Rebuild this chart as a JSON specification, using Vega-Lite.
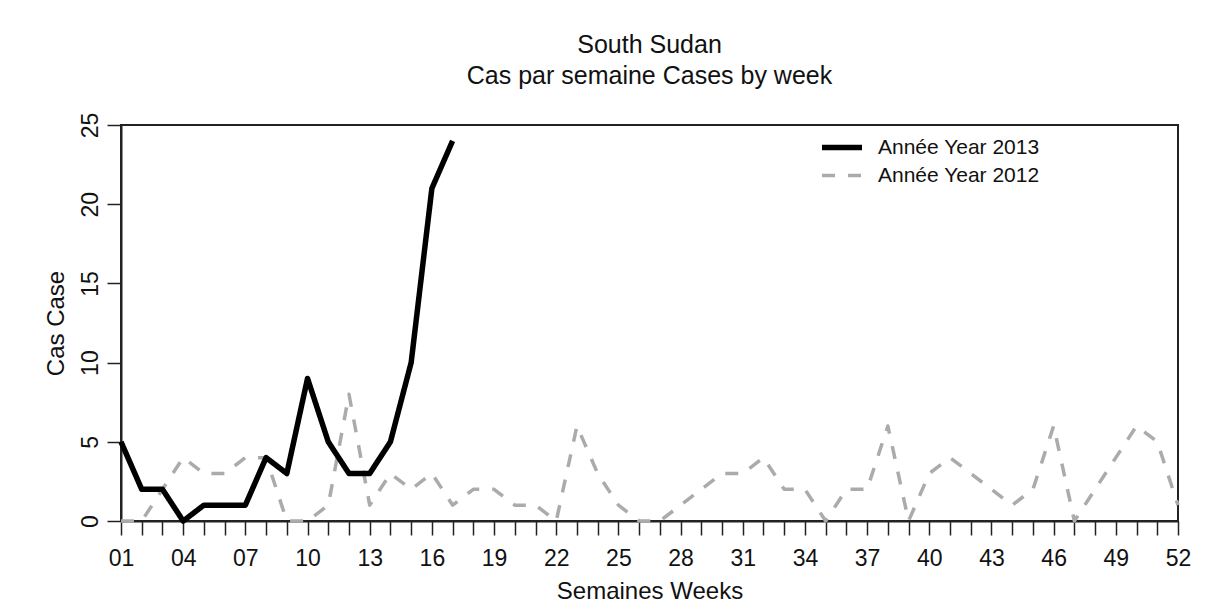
{
  "$schema": "https://vega.github.io/schema/vega-lite/v6.json",
  "autosize": {"type": "none"},
  "width": 1057,
  "height": 396,
  "padding": {"left": 121, "top": 125, "right": 29, "bottom": 86},
  "background": "white",
  "config": {
    "view": {"stroke": "#222222", "strokeWidth": 2},
    "font": "Liberation Sans",
    "axis": {"grid": false, "domainColor": "#222222", "tickColor": "#222222", "labelColor": "#111111", "titleColor": "#111111", "titleFontWeight": "normal", "labelFont": "Liberation Sans", "titleFont": "Liberation Sans"},
    "legend": {
      "title": null,
      "orient": "none",
      "legendX": 698,
      "legendY": 12,
      "symbolType": "stroke",
      "symbolSize": 1600,
      "clipHeight": 21,
      "labelFontSize": 21,
      "labelColor": "#111111",
      "labelFont": "Liberation Sans",
      "labelOffset": 13,
      "labelLimit": 400,
      "rowPadding": 6
    }
  },
  "title": {
    "text": ["South Sudan", "Cas par semaine Cases by week"],
    "fontSize": 25,
    "fontWeight": "normal",
    "font": "Liberation Sans",
    "color": "#111111",
    "lineHeight": 31,
    "anchor": "middle",
    "offset": 23
  },
  "data": {
    "values": [
      {"week": 1, "cases": 0, "series": "Année Year 2012"},
      {"week": 2, "cases": 0, "series": "Année Year 2012"},
      {"week": 3, "cases": 2, "series": "Année Year 2012"},
      {"week": 4, "cases": 4, "series": "Année Year 2012"},
      {"week": 5, "cases": 3, "series": "Année Year 2012"},
      {"week": 6, "cases": 3, "series": "Année Year 2012"},
      {"week": 7, "cases": 4, "series": "Année Year 2012"},
      {"week": 8, "cases": 4, "series": "Année Year 2012"},
      {"week": 9, "cases": 0, "series": "Année Year 2012"},
      {"week": 10, "cases": 0, "series": "Année Year 2012"},
      {"week": 11, "cases": 1, "series": "Année Year 2012"},
      {"week": 12, "cases": 8, "series": "Année Year 2012"},
      {"week": 13, "cases": 1, "series": "Année Year 2012"},
      {"week": 14, "cases": 3, "series": "Année Year 2012"},
      {"week": 15, "cases": 2, "series": "Année Year 2012"},
      {"week": 16, "cases": 3, "series": "Année Year 2012"},
      {"week": 17, "cases": 1, "series": "Année Year 2012"},
      {"week": 18, "cases": 2, "series": "Année Year 2012"},
      {"week": 19, "cases": 2, "series": "Année Year 2012"},
      {"week": 20, "cases": 1, "series": "Année Year 2012"},
      {"week": 21, "cases": 1, "series": "Année Year 2012"},
      {"week": 22, "cases": 0, "series": "Année Year 2012"},
      {"week": 23, "cases": 6, "series": "Année Year 2012"},
      {"week": 24, "cases": 3, "series": "Année Year 2012"},
      {"week": 25, "cases": 1, "series": "Année Year 2012"},
      {"week": 26, "cases": 0, "series": "Année Year 2012"},
      {"week": 27, "cases": 0, "series": "Année Year 2012"},
      {"week": 28, "cases": 1, "series": "Année Year 2012"},
      {"week": 29, "cases": 2, "series": "Année Year 2012"},
      {"week": 30, "cases": 3, "series": "Année Year 2012"},
      {"week": 31, "cases": 3, "series": "Année Year 2012"},
      {"week": 32, "cases": 4, "series": "Année Year 2012"},
      {"week": 33, "cases": 2, "series": "Année Year 2012"},
      {"week": 34, "cases": 2, "series": "Année Year 2012"},
      {"week": 35, "cases": 0, "series": "Année Year 2012"},
      {"week": 36, "cases": 2, "series": "Année Year 2012"},
      {"week": 37, "cases": 2, "series": "Année Year 2012"},
      {"week": 38, "cases": 6, "series": "Année Year 2012"},
      {"week": 39, "cases": 0, "series": "Année Year 2012"},
      {"week": 40, "cases": 3, "series": "Année Year 2012"},
      {"week": 41, "cases": 4, "series": "Année Year 2012"},
      {"week": 42, "cases": 3, "series": "Année Year 2012"},
      {"week": 43, "cases": 2, "series": "Année Year 2012"},
      {"week": 44, "cases": 1, "series": "Année Year 2012"},
      {"week": 45, "cases": 2, "series": "Année Year 2012"},
      {"week": 46, "cases": 6, "series": "Année Year 2012"},
      {"week": 47, "cases": 0, "series": "Année Year 2012"},
      {"week": 48, "cases": 2, "series": "Année Year 2012"},
      {"week": 49, "cases": 4, "series": "Année Year 2012"},
      {"week": 50, "cases": 6, "series": "Année Year 2012"},
      {"week": 51, "cases": 5, "series": "Année Year 2012"},
      {"week": 52, "cases": 1, "series": "Année Year 2012"},
      {"week": 1, "cases": 5, "series": "Année Year 2013"},
      {"week": 2, "cases": 2, "series": "Année Year 2013"},
      {"week": 3, "cases": 2, "series": "Année Year 2013"},
      {"week": 4, "cases": 0, "series": "Année Year 2013"},
      {"week": 5, "cases": 1, "series": "Année Year 2013"},
      {"week": 6, "cases": 1, "series": "Année Year 2013"},
      {"week": 7, "cases": 1, "series": "Année Year 2013"},
      {"week": 8, "cases": 4, "series": "Année Year 2013"},
      {"week": 9, "cases": 3, "series": "Année Year 2013"},
      {"week": 10, "cases": 9, "series": "Année Year 2013"},
      {"week": 11, "cases": 5, "series": "Année Year 2013"},
      {"week": 12, "cases": 3, "series": "Année Year 2013"},
      {"week": 13, "cases": 3, "series": "Année Year 2013"},
      {"week": 14, "cases": 5, "series": "Année Year 2013"},
      {"week": 15, "cases": 10, "series": "Année Year 2013"},
      {"week": 16, "cases": 21, "series": "Année Year 2013"},
      {"week": 17, "cases": 24, "series": "Année Year 2013"}
    ]
  },
  "mark": {"type": "line", "strokeJoin": "round", "strokeCap": "butt"},
  "encoding": {
    "x": {
      "field": "week",
      "type": "quantitative",
      "scale": {"domain": [1, 52], "nice": false, "zero": false},
      "axis": {
        "title": "Semaines Weeks",
        "values": [1,2,3,4,5,6,7,8,9,10,11,12,13,14,15,16,17,18,19,20,21,22,23,24,25,26,27,28,29,30,31,32,33,34,35,36,37,38,39,40,41,42,43,44,45,46,47,48,49,50,51,52],
        "labelExpr": "(datum.value - 1) % 3 == 0 ? (datum.value < 10 ? '0' + datum.value : '' + datum.value) : ''",
        "labelOverlap": false,
        "labelFlush": false,
        "tickSize": 14,
        "tickWidth": 1.5,
        "domainWidth": 2,
        "labelFontSize": 23,
        "labelPadding": 12,
        "titleFontSize": 24,
        "titlePadding": 9
      }
    },
    "y": {
      "field": "cases",
      "type": "quantitative",
      "scale": {"domain": [0, 25], "nice": false},
      "axis": {
        "title": "Cas Case",
        "values": [0, 5, 10, 15, 20, 25],
        "labelAngle": 270,
        "tickSize": 14,
        "tickWidth": 1.5,
        "domainWidth": 2,
        "labelFontSize": 23,
        "labelPadding": 5,
        "titleFontSize": 24,
        "titlePadding": 11
      }
    },
    "color": {
      "field": "series",
      "type": "nominal",
      "scale": {"domain": ["Année Year 2013", "Année Year 2012"], "range": ["#000000", "#ababab"]}
    },
    "strokeDash": {
      "field": "series",
      "type": "nominal",
      "scale": {"domain": ["Année Year 2013", "Année Year 2012"], "range": [[1, 0], [13, 13]]}
    },
    "strokeWidth": {
      "field": "series",
      "type": "nominal",
      "scale": {"domain": ["Année Year 2013", "Année Year 2012"], "range": [5.5, 3.5]}
    }
  }
}
